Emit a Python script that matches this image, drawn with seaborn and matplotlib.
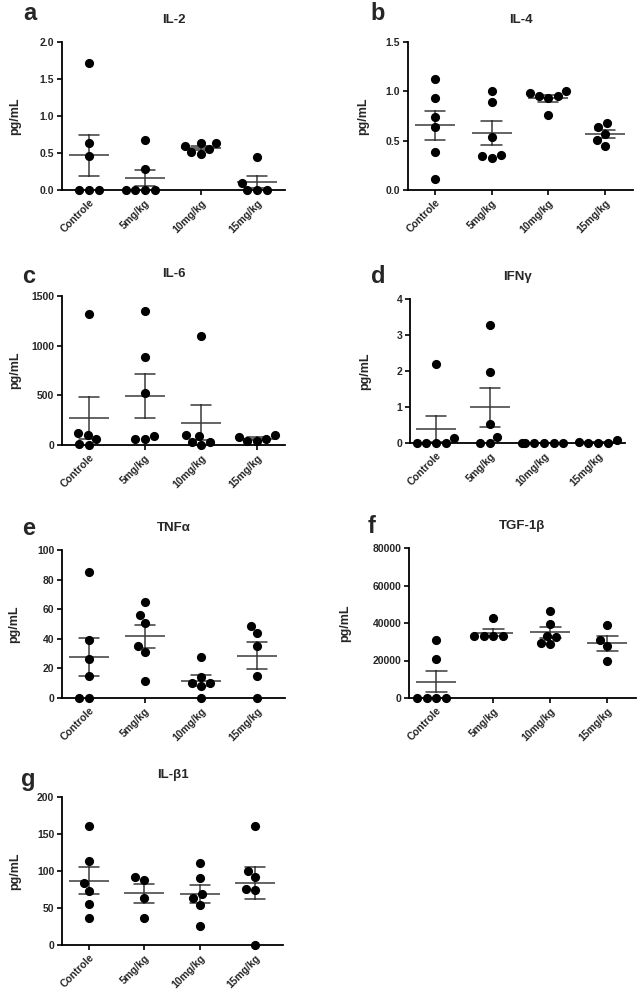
import numpy as np
import pandas as pd
import matplotlib
matplotlib.use("Agg")
import matplotlib.pyplot as plt
import seaborn as sns

sns.set_style("ticks")
plt.rcParams['font.family'] = ['Liberation Sans', 'DejaVu Sans']
plt.rcParams['font.weight'] = 'bold'

groups = ["Controle", "5mg/kg", "10mg/kg", "15mg/kg"]

# values, one list per group
il2 = [[1.72, 0.64, 0.46, 0, 0, 0],
       [0.67, 0.29, 0, 0, 0, 0],
       [0.55, 0.63, 0.64, 0.60, 0.49, 0.51],
       [0.44, 0.10, 0, 0, 0]]
il4 = [[1.12, 0.93, 0.74, 0.635, 0.39, 0.11],
       [1.007, 0.895, 0.534, 0.35, 0.324, 0.345],
       [0.95, 0.98, 1.0, 0.95, 0.93, 0.76],
       [0.64, 0.675, 0.57, 0.507, 0.45]]
il6 = [[1320, 120, 100, 60, 0, 10],
       [1350, 890, 520, 90, 57, 60],
       [1100, 100, 90, 27, 27, 0],
       [64, 101, 40, 77, 40]]
ifng = [[2.2, 0.13, 0, 0, 0, 0],
        [3.28, 1.98, 0.52, 0.16, 0, 0],
        [0, 0, 0, 0, 0, 0],
        [0.09, 0.02, 0, 0, 0]]
tnfa = [[85.3, 39, 26.6, 15.1, 0, 0],
        [65, 56.2, 50.8, 35.2, 30.9, 11.5],
        [27.8, 14.2, 10.4, 10.2, 7.9, 0],
        [48.8, 44.2, 35.2, 15.1, 0]]
tgf = [[31000, 21000, 0, 0, 0, 0],
       [42600, 33000, 33000, 33000, 33000],
       [46300, 39400, 32600, 33300, 28700, 29400],
       [38700, 30700, 27600, 19600]]
il1b = [[160.4, 114, 83.3, 72.5, 55.9, 36.5],
        [87.8, 91.9, 63, 36],
        [111, 91, 68.5, 63, 53.6, 26],
        [161, 99.5, 92, 75.2, 75, 0]]

panels = [
    ("a", "IL-2", il2, [0, 0.5, 1.0, 1.5, 2.0], "{:.1f}"),
    ("b", "IL-4", il4, [0, 0.5, 1.0, 1.5], "{:.1f}"),
    ("c", "IL-6", il6, [0, 500, 1000, 1500], "{:.0f}"),
    ("d", "IFN\u03b3", ifng, [0, 1, 2, 3, 4], "{:.0f}"),
    ("e", "TNF\u03b1", tnfa, [0, 20, 40, 60, 80, 100], "{:.0f}"),
    ("f", "TGF-1\u03b2", tgf, [0, 20000, 40000, 60000, 80000], "{:.0f}"),
    ("g", "IL-\u03b21", il1b, [0, 50, 100, 150, 200], "{:.0f}"),
]

# layout in pixels: axes box (left, right, top, bottom), letter spot, ylabel gap
W, H = 637, 992
boxes = [(62, 285, 42, 190), (408, 633, 42, 190),
         (62, 285, 296, 445), (410, 625, 299, 443),
         (62, 285, 550, 698), (409, 636, 548, 698),
         (62, 283, 797, 945)]
letter_xy = [(37, 20), (385, 20), (35, 283), (385, 283),
             (35, 535), (376, 533), (35, 786)]
ylab_gap = [41, 39, 41, 39, 42, 58, 41]

fig = plt.figure(figsize=(W / 100, H / 100), dpi=100)

for (letter, title, vals, yt, fmt), (l, r, t, b), (lx, ly), gap in zip(
        panels, boxes, letter_xy, ylab_gap):
    ax = fig.add_axes([l / W, 1 - b / H, (r - l) / W, (b - t) / H])
    df = pd.DataFrame({
        "group": [g for g, v in zip(groups, vals) for _ in v],
        "value": [x for v in vals for x in v],
    })
    sns.swarmplot(data=df, x="group", y="value", order=groups, color="black",
                  size=6.6, ax=ax)
    sns.pointplot(data=df, x="group", y="value", order=groups, errorbar="se",
                  markers="_", linestyle="none", color="#3a3a3a",
                  markersize=29, markeredgewidth=1.1, capsize=0.36,
                  err_kws={"linewidth": 1.1}, ax=ax)
    for c in ax.collections:
        c.set_clip_on(False)
    ax.set_xlim(-0.48, 3.5)
    ax.set_ylim(yt[0], yt[-1])
    ax.set_yticks(yt)
    ax.set_yticklabels([fmt.format(v) for v in yt])
    ax.set_xticks(range(len(groups)))
    ax.set_xticklabels(groups, rotation=45, ha="right", rotation_mode="anchor")
    ax.tick_params(axis="both", labelsize=7.5, width=1.2, length=3.5, pad=2,
                   color="black")
    for lab in ax.get_xticklabels() + ax.get_yticklabels():
        lab.set_fontweight("bold")
    sns.despine(ax=ax)
    for s in ("left", "bottom"):
        ax.spines[s].set_linewidth(1.3)
        ax.spines[s].set_color("black")
    ax.set_xlabel("")
    ax.set_ylabel("pg/mL", fontsize=9, fontweight="bold")
    ax.yaxis.set_label_coords(-gap / (r - l), 0.5)
    ax.set_title(title, fontsize=9.5, fontweight="bold", pad=14)
    fig.text(lx / W, 1 - ly / H, letter, fontsize=17, fontweight="bold",
             ha="right", va="baseline")

fig.savefig("out.png", dpi=100)
